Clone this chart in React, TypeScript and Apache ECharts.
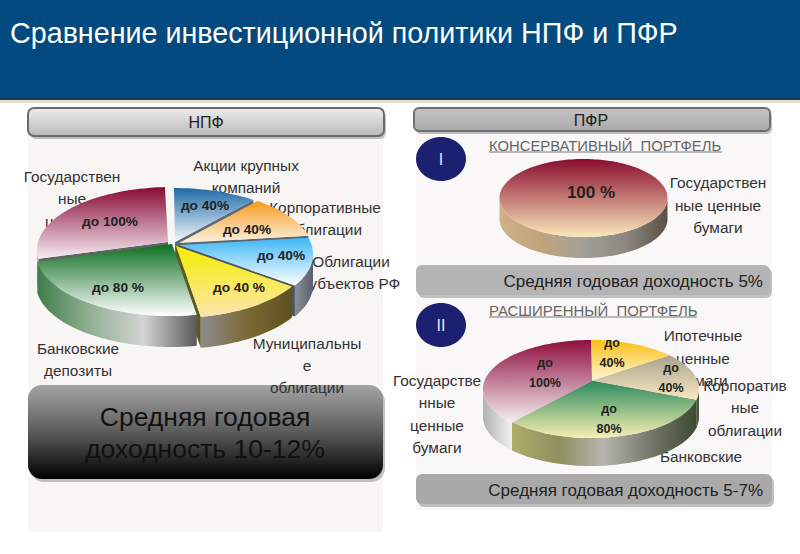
import React, { useEffect, useRef } from "react";
import * as echarts from "echarts";

const npfCategories = ["Акции крупных компаний", "Корпоративные облигации", "Облигации субъектов РФ", "Муниципальные облигации", "Банковские депозиты", "Государственные ценные бумаги"];
const npfValues = [36, 39, 45, 49, 93, 98];
const npfLabels = ["до 40%", "до 40%", "до 40%", "до 40 %", "до 80 %", "до 100%"];

const pfr1Categories = ["Государственные ценные бумаги"];
const pfr1Values = [360];
const pfr1Labels = ["100 %"];

const pfr2Categories = ["Ипотечные ценные бумаги", "Корпоративные облигации", "Банковские депозиты", "Государственные ценные бумаги"];
const pfr2Values = [47, 56, 124, 133];
const pfr2Labels = ["до\n40%", "до\n40%", "до\n80%", "до\n100%"];

const FONT = '"Liberation Sans", Arial, sans-serif';

type Look = { top: [string, string]; wall: string[]; cut: string; off: [number, number]; apex?: [number, number]; trim?: number; label: [number, number] };
type Pie = { name: string; cats: string[]; values: number[]; labels: string[]; cx: number; cy: number; rx: number; ry: number; ax: number; ay: number; depth: number; font: number; looks: Look[] };

const npfPie: Pie = {
  name: "НПФ", cats: npfCategories, values: npfValues, labels: npfLabels,
  cx: 173, cy: 252, rx: 135, ry: 63, ax: 174, ay: 243, depth: 31, font: 13.7,
  looks: [
    { top: ["#1f6aa5", "#f4f8fb"], wall: ["#888", "#888"], cut: "#5f6a78", off: [1, -1], label: [205, 205] },
    { top: ["#f59a1c", "#fdf3e2"], wall: ["#888", "#888"], cut: "#5c6470", off: [5, 0], label: [247, 229] },
    { top: ["#3fb6f5", "#ffffff"], wall: ["#8a8e96", "#5a5f6c"], cut: "#4d5562", off: [5, 2], label: [281, 255] },
    { top: ["#f6ee00", "#fbe5ae"], wall: ["#8d8d8d", "#7a6a35", "#5f5120"], cut: "#5d5b1c", off: [2, 3], label: [239, 287] },
    { top: ["#0d6e20", "#ffffff"], wall: ["#3f7d4a", "#92b094", "#d4d4d4", "#5a5a5a"], cut: "#4c5a4c", off: [-2, 1], label: [118, 287] },
    { top: ["#880a35", "#f6edf3"], wall: ["#9aa59a", "#d8d8d8"], cut: "#5c6660", off: [-1, -2], apex: [-6, -1], trim: 3, label: [110, 221] },
  ],
};

const pfr1Pie: Pie = {
  name: "ПФР I", cats: pfr1Categories, values: pfr1Values, labels: pfr1Labels,
  cx: 583.5, cy: 198, rx: 84, ry: 39, ax: 583.5, ay: 198, depth: 21, font: 17,
  looks: [
    { top: ["#8a0c2e", "#fbe9bb"], wall: ["#cfb186", "#c0a47a", "#a3a09a", "#8c8880", "#5a5044"], cut: "#555", off: [0, 0], label: [591, 192] },
  ],
};

const pfr2Pie: Pie = {
  name: "ПФР II", cats: pfr2Categories, values: pfr2Values, labels: pfr2Labels,
  cx: 591, cy: 389, rx: 108, ry: 49, ax: 592, ay: 381, depth: 28, font: 12.5,
  looks: [
    { top: ["#fbbf14", "#fdf5d8"], wall: ["#888", "#888"], cut: "#666", off: [0, 0], label: [612, 353] },
    { top: ["#a9a28c", "#f8e9c2"], wall: ["#56603f", "#44503a"], cut: "#555", off: [0, 0], label: [671, 378] },
    { top: ["#2a8a5e", "#f8efb0"], wall: ["#b0ae6a", "#8f8f60", "#b5b5ae", "#74786a", "#3e4a30"], cut: "#555", off: [0, 0], label: [609, 419] },
    { top: ["#8e0f3c", "#f4eef0"], wall: ["#b2b2b2", "#f0f0f0"], cut: "#888", off: [0, 0], label: [545, 373] },
  ],
};

function rim(p: Pie, t: number, dx = 0, dy = 0): [number, number] {
  const a = (t * Math.PI) / 180;
  return [p.cx + dx + p.rx * Math.sin(a), p.cy + dy - p.ry * Math.cos(a)];
}

function arc(p: Pie, from: number, to: number, dx: number, dy: number) {
  const pts: [number, number][] = [];
  for (let t = from; t < to; t += 2) pts.push(rim(p, t, dx, dy));
  pts.push(rim(p, to, dx, dy));
  return pts;
}

const vGrad = (a: string, b: string) => ({ type: "linear", x: 0, y: 0, x2: 0, y2: 1, colorStops: [{ offset: 0, color: a }, { offset: 1, color: b }] });
const hGrad = (cs: string[]) => ({ type: "linear", x: 0, y: 0, x2: 1, y2: 0, colorStops: cs.map((c, i) => ({ offset: cs.length > 1 ? i / (cs.length - 1) : 0, color: c })) });

function pieSeries(p: Pie) {
  const total = p.values.reduce((a, b) => a + b, 0);
  return {
    type: "custom",
    name: p.name,
    coordinateSystem: "none",
    z: 5,
    silent: true,
    data: p.values.map((v, i) => ({ name: p.cats[i], value: [v] })),
    renderItem: (params: any) => {
      const i = params.dataIndex;
      const look = p.looks[i];
      const start = (p.values.slice(0, i).reduce((a, b) => a + b, 0) / total) * 360;
      const end = start + (p.values[i] / total) * 360 - (look.trim ?? 0);
      const [dx, dy] = look.off;
      const [ax, ay] = look.apex ?? look.off;
      const apex: [number, number] = [p.ax + ax, p.ay + ay];
      const mid = (start + end) / 2;
      const depthOrder = 10 + (180 - Math.abs(mid - 180)) / 10;
      const children: any[] = [];
      const vs = Math.max(start, 90);
      const ve = Math.min(end, 270);
      if (ve > vs) {
        const upper = arc(p, vs, ve, dx, dy);
        const lower = upper.map(([x, y]) => [x, y + p.depth]).reverse();
        children.push({ type: "polygon", z2: depthOrder, shape: { points: [...upper, ...lower] }, style: { fill: hGrad(look.wall) } });
      }
      const face = (t: number) => {
        const r = rim(p, t, dx, dy);
        children.push({
          type: "polygon", z2: depthOrder - 1,
          shape: { points: [apex, r, [r[0], r[1] + p.depth], [apex[0], apex[1] + p.depth]] },
          style: { fill: look.cut },
        });
      };
      if (total !== p.values[i]) {
        if (end > 0 && end < 180) face(end);
        if (start > 180 && start < 360) face(start);
      }
      const top = end - start >= 360 ? arc(p, start, end, dx, dy) : [apex, ...arc(p, start, end, dx, dy)];
      children.push({ type: "polygon", z2: 100, shape: { points: top }, style: { fill: vGrad(look.top[0], look.top[1]) } });
      children.push({
        type: "text", z2: 200,
        style: {
          text: p.labels[i], x: look.label[0], y: look.label[1], align: "center", verticalAlign: "middle",
          fill: "#222", font: `bold ${p.font}px ${FONT}`, lineHeight: p.font + 8,
        },
      });
      return { type: "group", children };
    },
  };
}

function txt(text: string, x: number, y: number, font: string, fill: string, align = "center", z = 3) {
  return { type: "text", z, silent: true, style: { text, x, y, font: `${font} ${FONT}`, fill, align, verticalAlign: "middle" } };
}

function stretched(text: string, x: number, y: number, font: string, fill: string, sx: number) {
  return { type: "text", z: 3, silent: true, x, y, scaleX: sx, style: { text, x: 0, y: 0, font: `${font} ${FONT}`, fill, align: "left", verticalAlign: "middle" } };
}

function lines(rows: string[], x: number, ys: number[]) {
  return rows.map((r, i) => txt(r, x, ys[i] - 1, "15.4px", "#333"));
}

function box(x: number, y: number, w: number, h: number, r: number, fill: any, stroke?: string) {
  return [
    { type: "rect", z: 1, silent: true, shape: { x: x + 2, y: y + 3, width: w, height: h, r }, style: { fill: "#9a9a9a", opacity: 0.6 } },
    { type: "rect", z: 1, silent: true, shape: { x, y, width: w, height: h, r }, style: { fill, stroke: stroke ?? "none", lineWidth: stroke ? 2 : 0 } },
  ];
}

export default function App() {
  const ref = useRef<HTMLDivElement>(null);
  useEffect(() => {
    document.body.style.margin = "0";
    const chart = echarts.init(ref.current!, null, { renderer: "svg" });
    chart.setOption({
      animation: false,
      backgroundColor: "#ffffff",
      graphic: [
        { type: "rect", z: 0, silent: true, shape: { x: 0, y: 0, width: 800, height: 98 }, style: { fill: "#034a80" } },
        { type: "rect", z: 0, silent: true, shape: { x: 0, y: 98, width: 800, height: 2 }, style: { fill: "#1d3a55" } },
        { type: "rect", z: 0, silent: true, shape: { x: 0, y: 100, width: 800, height: 3 }, style: { fill: "#e6dfd2" } },
        { type: "rect", z: 0, silent: true, shape: { x: 28, y: 135, width: 355, height: 397 }, style: { fill: "#f8f5f5" } },
        { type: "rect", z: 0, silent: true, shape: { x: 416, y: 110, width: 356, height: 400 }, style: { fill: "#f9f7f7" } },
        txt("Сравнение инвестиционной политики НПФ и ПФР", 10, 33, "28.7px", "#ffffff", "left"),

        ...box(28, 108, 356, 28, 6, vGrad("#ededed", "#b9b9b9"), "#6b6b6b"),
        txt("НПФ", 206, 122, "16px", "#222"),
        ...box(414, 108, 356, 23, 5, vGrad("#c4c4c4", "#a9a9a9"), "#6f6f6f"),
        txt("ПФР", 591, 120, "16px", "#222"),

        { type: "ellipse", z: 1, silent: true, shape: { cx: 441, cy: 159, rx: 25, ry: 22 }, style: { fill: "#1b2070" } },
        txt("I", 441, 159, "16px", "#e8e8f0"),
        { type: "ellipse", z: 1, silent: true, shape: { cx: 441, cy: 325, rx: 25, ry: 22 }, style: { fill: "#1b2070" } },
        txt("II", 441, 325, "16px", "#e8e8f0"),

        stretched("КОНСЕРВАТИВНЫЙ  ПОРТФЕЛЬ", 489, 146, "14px", "#666", 1.06),
        { type: "line", z: 1, silent: true, shape: { x1: 489, y1: 152, x2: 722, y2: 152 }, style: { stroke: "#777", lineWidth: 1 } },
        stretched("РАСШИРЕННЫЙ  ПОРТФЕЛЬ", 489, 311, "14px", "#666", 1.067),
        { type: "line", z: 1, silent: true, shape: { x1: 489, y1: 317, x2: 697, y2: 317 }, style: { stroke: "#777", lineWidth: 1 } },

        ...box(416, 265, 354, 30, 6, "#b4b4b4"),
        txt("Средняя годовая доходность 5%", 763, 281, "17px", "#222", "right"),
        ...box(416, 474, 356, 30, 6, "#a9a9a9"),
        txt("Средняя годовая доходность 5-7%", 763, 490, "17px", "#222", "right"),

        ...box(28, 385, 355, 94, 14, { type: "linear", x: 0, y: 0, x2: 0, y2: 1, colorStops: [{ offset: 0, color: "#a4a4a4" }, { offset: 0.5, color: "#5c5c5c" }, { offset: 1, color: "#000000" }] }),
        txt("Средняя годовая", 205, 417, "26.5px", "#111"),
        txt("доходность 10-12%", 205, 449, "26.5px", "#111"),

        ...lines(["Государствен", "ные", "ценные"], 72, [177, 199, 222]),
        ...lines(["Акции крупных", "компаний"], 246, [166, 188]),
        ...lines(["Корпоративные", "облигации"], 325, [208, 230]),
        ...lines(["Облигации", "субъектов РФ"], 351, [262, 284]),
        ...lines(["Муниципальны", "е", "облигации"], 307, [344, 366, 388]),
        ...lines(["Банковские", "депозиты"], 78, [349, 371]),
        ...lines(["Государствен", "ные ценные", "бумаги"], 718, [183, 206, 228]),
        ...lines(["Государстве", "нные", "ценные", "бумаги"], 437, [381, 403, 426, 448]),
        ...lines(["Ипотечные", "ценные", "бумаги"], 703, [336, 359, 381]),
        ...lines(["Корпоратив", "ные", "облигации"], 745, [386, 408, 431]),
        ...lines(["Банковские"], 701, [457]),
      ],
      series: [pieSeries(npfPie), pieSeries(pfr1Pie), pieSeries(pfr2Pie)],
    });
    return () => chart.dispose();
  }, []);
  return <div ref={ref} style={{ width: 800, height: 554 }} />;
}
